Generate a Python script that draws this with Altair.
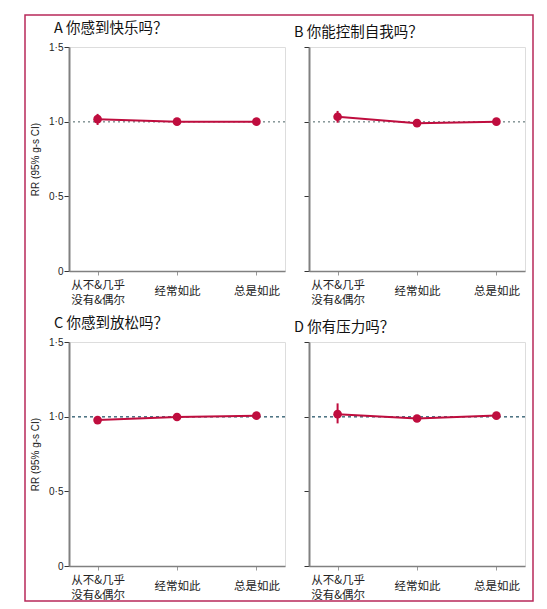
import altair as alt
import pandas as pd

cats = ["从不&几乎\n没有&偶尔", "经常如此", "总是如此"]

letters = ["A", "B", "C", "D"]
questions = ["你感到快乐吗？", "你能控制自我吗？", "你感到放松吗？", "你有压力吗？"]

rr_a = [1.017, 1.000, 1.000]
lo_a = [0.978, 0.992, 0.994]
hi_a = [1.052, 1.008, 1.006]

rr_b = [1.033, 0.990, 1.000]
lo_b = [0.993, 0.983, 0.994]
hi_b = [1.072, 0.997, 1.006]

rr_c = [0.977, 0.998, 1.007]
lo_c = [0.970, 0.992, 1.000]
hi_c = [0.984, 1.004, 1.014]

rr_d = [1.017, 0.988, 1.007]
lo_d = [0.955, 0.981, 1.000]
hi_d = [1.089, 0.995, 1.014]

y_ticks = [0, 0.5, 1.0, 1.5]

RED = "#bf0d3e"
GREY = "#808080"
W, H = 216, 224
ROW_GAP, COL_GAP = 71, 24


def panel(letter, question, rr, lo, hi, show_y, ref_color, ref_dash):
    df = pd.DataFrame({"cat": cats, "rr": rr, "lo": lo, "hi": hi})
    x = alt.X(
        "cat:N",
        sort=cats,
        scale=alt.Scale(type="point", padding=0.36),
        axis=alt.Axis(
            title=None,
            labelAngle=0,
            labelExpr="split(datum.label, '\\n')",
            labelFont="Noto Sans CJK SC",
            labelFontSize=11.5,
            labelColor="#222222",
            labelBaseline="middle",
            labelLineHeight=15,
            labelPadding={
                "condition": {"test": "indexof(datum.value, '&') >= 0", "value": 10},
                "value": 16,
            },
            tickSize=4,
            tickColor="#999999",
            domainColor=GREY,
            domainWidth=1.5,
        ),
    )
    y_axis = alt.Axis(
        values=y_ticks,
        labelExpr="datum.value == 0 ? '0' : replace(format(datum.value, '.1f'), '.', '·')",
        labels=show_y,
        title="RR (95% g-s CI)" if show_y else "",
        titleFont="Liberation Sans",
        titleFontSize=10,
        titleFontWeight="normal",
        titleColor="#222222",
        titlePadding=8,
        labelFont="Liberation Sans",
        labelFontSize=10,
        labelColor="#222222",
        labelPadding=1,
        tickSize=5,
        tickColor="#333333",
        domainColor=GREY,
        domainWidth=2,
        grid=False,
    )
    y = alt.Y("rr:Q", scale=alt.Scale(domain=[0, 1.5], nice=False), axis=y_axis)
    base = alt.Chart(df)
    ref = base.mark_rule(color=ref_color, strokeDash=ref_dash, strokeWidth=1.2).encode(
        y=alt.datum(1.0)
    )
    err = base.mark_rule(color=RED, strokeWidth=2).encode(x=x, y="lo:Q", y2="hi:Q")
    line = base.mark_line(color=RED, strokeWidth=2).encode(x=x, y=y)
    pts = base.mark_circle(color=RED, size=75, opacity=1).encode(x=x, y=y)
    return alt.layer(ref, err, line, pts).properties(
        width=W,
        height=H,
        title=alt.TitleParams(
            text=f"{letter}  {question}",
            anchor="start",
            frame="group",
            dx=-15,
            fontSize=14.5,
            fontWeight="normal",
            font="Noto Sans CJK SC",
            color="#111111",
            offset=6,
        ),
    )


pa = panel(letters[0], questions[0], rr_a, lo_a, hi_a, True, "#8a9a9c", [2, 3])
pb = panel(letters[1], questions[1], rr_b, lo_b, hi_b, False, "#8a9a9c", [2, 3])
pc = panel(letters[2], questions[2], rr_c, lo_c, hi_c, True, "#4f7585", [3, 3])
pd_ = panel(letters[3], questions[3], rr_d, lo_d, hi_d, False, "#4f7585", [3, 3])

# outer frame, drawn from a 1x1 helper cell placed below panel C
frame_top = 2 * H + 2 * ROW_GAP
frame = (
    alt.Chart(pd.DataFrame({"k": [0]}))
    .mark_rect(fillOpacity=0, stroke="#b8285a", strokeWidth=1.5)
    .encode(
        x=alt.value(-44),
        x2=alt.value(464),
        y=alt.value(-(frame_top + 32)),
        y2=alt.value(-36),
    )
    .properties(width=1, height=1)
)

chart = (
    alt.concat(pa, pb, pc, pd_, frame, columns=2,
               spacing={"column": COL_GAP, "row": ROW_GAP}, bounds="flush")
    .properties(padding={"left": 15, "top": 5, "right": 0, "bottom": 0})
    .configure_view(stroke="transparent")
    .configure(background="white")
)

chart.save("out.html", embed_options={"renderer": "svg", "actions": False})
